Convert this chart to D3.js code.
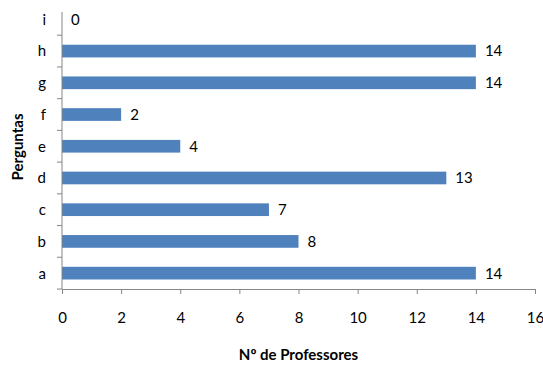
<!DOCTYPE html>
<html lang="pt">
<head>
  <meta charset="utf-8">
  <title>Perguntas</title>
  <style>
    body { margin: 0; background: #fff; }
    text { font-family: Lato, "Open Sans", sans-serif; fill: #000; }
  </style>
</head>
<body>
  <script src="https://d3js.org/d3.v7.min.js" charset="utf-8"></script>
  <script>

      var categories = ["a", "b", "c", "d", "e", "f", "g", "h", "i"];
      var values = [14, 8, 7, 13, 4, 2, 14, 14, 0];
      var xTicks = [0, 2, 4, 6, 8, 10, 12, 14, 16];

      var w = 543;
      var h = 365;
      var pLeft = 62, pRight = 535, pTop = 3.5, pBottom = 289;

      var svg = d3.select("body").append("svg").attr("width", w).attr("height", h);

      var x = d3.scaleLinear().domain([0, 16]).range([pLeft, pRight]);
      var y = d3.scaleBand().domain(categories).range([pBottom, pTop]).paddingInner(0.6).paddingOuter(0.3);
      var band = (pBottom - pTop) / categories.length;

      // bars
      svg.selectAll("rect.bar")
        .data(values)
        .enter()
        .append("rect")
        .attr("class", "bar")
        .attr("x", x(0))
        .attr("y", function(d, i){ return y(categories[i]); })
        .attr("width", function(d){ return x(d) - x(0); })
        .attr("height", y.bandwidth())
        .attr("fill", "#4f81bd");

      // value labels
      svg.selectAll("text.val")
        .data(values)
        .enter()
        .append("text")
        .attr("class", "val")
        .attr("x", function(d){ return x(d) + 9; })
        .attr("y", function(d, i){ return y(categories[i]) + y.bandwidth() / 2; })
        .attr("dy", "0.36em")
        .style("font-size", "15px")
        .text(function(d){ return d; });

      // x axis
      var xAxis = svg.append("g")
        .attr("transform", "translate(0," + pBottom + ")")
        .call(d3.axisBottom(x).tickValues(xTicks).tickSize(5).tickSizeOuter(0).tickPadding(18));
      xAxis.attr("font-family", null);
      xAxis.selectAll("path, line").attr("stroke", "#868686");
      xAxis.selectAll("text").style("font-size", "15px");

      // y axis line + ticks between categories
      svg.append("line")
        .attr("x1", pLeft).attr("x2", pLeft)
        .attr("y1", 12).attr("y2", pBottom)
        .attr("stroke", "#868686");
      svg.selectAll("line.ytick")
        .data(d3.range(categories.length))
        .enter()
        .append("line")
        .attr("class", "ytick")
        .attr("x1", pLeft - 5).attr("x2", pLeft)
        .attr("y1", function(i){ return pBottom - i * band; })
        .attr("y2", function(i){ return pBottom - i * band; })
        .attr("stroke", "#868686");

      // category labels
      svg.selectAll("text.cat")
        .data(categories)
        .enter()
        .append("text")
        .attr("class", "cat")
        .attr("x", pLeft - 16)
        .attr("y", function(d){ return y(d) + y.bandwidth() / 2; })
        .attr("dy", "0.36em")
        .attr("text-anchor", "end")
        .style("font-size", "15px")
        .text(function(d){ return d; });

      // axis titles
      svg.append("text")
        .attr("x", (pLeft + pRight) / 2)
        .attr("y", 360)
        .attr("text-anchor", "middle")
        .style("font-size", "15px")
        .style("font-weight", "bold")
        .text("Nº de Professores");

      svg.append("text")
        .attr("transform", "translate(23," + 147 + ") rotate(-90)")
        .attr("text-anchor", "middle")
        .style("font-size", "15px")
        .style("font-weight", "bold")
        .text("Perguntas");

  </script>
</body>
</html>
